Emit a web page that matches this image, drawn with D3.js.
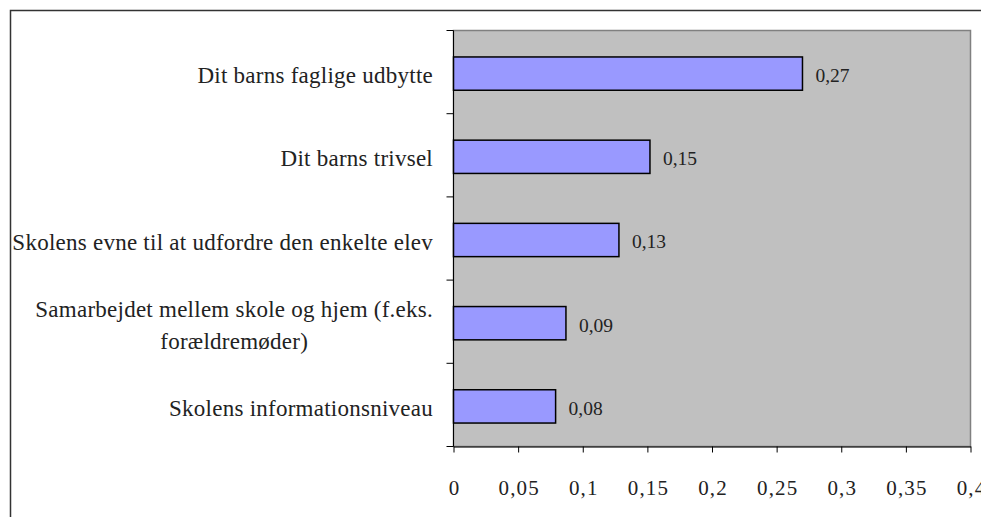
<!DOCTYPE html>
<html>
<head>
<meta charset="utf-8">
<script src="https://cdn.jsdelivr.net/npm/d3@7"></script>
<style>
  body { margin: 0; background: #fff; }
  text { font-family: "Liberation Serif", "Times New Roman", serif; fill: #222; }
</style>
</head>
<body>
<div id="chart"></div>
<script>
// data (top to bottom)
const categories = [
  "Dit barns faglige udbytte",
  "Dit barns trivsel",
  "Skolens evne til at udfordre den enkelte elev",
  "Samarbejdet mellem skole og hjem (f.eks.|forældremøder)",
  "Skolens informationsniveau"
];
const values = [0.270, 0.152, 0.128, 0.087, 0.079];
const xTicks = [0, 0.05, 0.1, 0.15, 0.2, 0.25, 0.3, 0.35, 0.4];

function createBarChart() {
  const W = 981, H = 517;
  const plot = { left: 453.5, top: 30.5, right: 970.5, bottom: 446.5 };
  const serif = "Liberation Serif, Times New Roman, serif";

  const svg = d3.select("#chart")
    .append("svg")
    .attr("width", W)
    .attr("height", H);

  // outer chart border (runs off the right and bottom edges)
  svg.append("rect")
    .attr("x", 10.5).attr("y", 10.5)
    .attr("width", 1000).attr("height", 600)
    .attr("fill", "#fff")
    .attr("stroke", "#333")
    .attr("stroke-width", 1.5);

  const x = d3.scaleLinear()
    .domain([0, 0.4])
    .range([plot.left, plot.right]);

  const y = d3.scaleBand()
    .domain(categories)
    .range([plot.top, plot.bottom])
    .paddingInner(0.6)
    .paddingOuter(0.3);

  // plot area
  svg.append("rect")
    .attr("x", plot.left).attr("y", plot.top)
    .attr("width", plot.right - plot.left)
    .attr("height", plot.bottom - plot.top)
    .attr("fill", "#c0c0c0")
    .attr("stroke", "#808080")
    .attr("stroke-width", 1.5);

  // bars
  svg.selectAll("rect.bar")
    .data(categories)
    .join("rect")
    .attr("class", "bar")
    .attr("x", x(0))
    .attr("y", d => y(d) + 1.5)
    .attr("width", (d, i) => x(values[i]) - x(0))
    .attr("height", y.bandwidth())
    .attr("fill", "#9999ff")
    .attr("stroke", "#000")
    .attr("stroke-width", 1.5);

  const fmt = v => d3.format(".2f")(v).replace(".", ",");

  // value labels
  svg.selectAll("text.val")
    .data(categories)
    .join("text")
    .attr("class", "val")
    .attr("x", (d, i) => x(values[i]) + 13)
    .attr("y", d => y(d) + y.bandwidth() / 2 + 3)
    .attr("dy", "0.35em")
    .attr("font-family", serif)
    .style("font-size", "19.5px")
    .text((d, i) => fmt(values[i]));

  // x axis
  const xAxis = svg.append("g")
    .attr("transform", `translate(0,${plot.bottom})`)
    .call(d3.axisBottom(x)
      .tickValues(xTicks)
      .tickSize(6)
      .tickSizeOuter(0)
      .tickFormat(d => String(d).replace(".", ",")));
  xAxis.select(".domain").attr("stroke", "#000");
  xAxis.selectAll(".tick text")
    .attr("y", 34)
    .attr("dx", "0.6px")
    .attr("fill", "#222")
    .attr("font-family", serif)
    .style("font-size", "21px")
    .style("letter-spacing", "1.2px");

  // y axis: ticks sit between categories
  const bounds = d3.range(categories.length + 1)
    .map(i => plot.top + i * y.step());
  svg.append("line")
    .attr("x1", plot.left).attr("x2", plot.left)
    .attr("y1", plot.top).attr("y2", plot.bottom)
    .attr("stroke", "#000");
  svg.selectAll("line.ytick")
    .data(bounds)
    .join("line")
    .attr("class", "ytick")
    .attr("x1", plot.left - 7).attr("x2", plot.left)
    .attr("y1", d => d).attr("y2", d => d)
    .attr("stroke", "#000");

  // category labels (wrapped lines are centred on each other)
  const catSize = "23px", catSpacing = "0.25px";
  categories.forEach(c => {
    const lines = c.split("|");
    const cy = y(c) + y.bandwidth() / 2 + 3;
    const g = svg.append("text")
      .attr("font-family", serif)
      .style("font-size", catSize)
      .style("letter-spacing", catSpacing);
    if (lines.length === 1) {
      g.attr("x", 433).attr("y", cy).attr("dy", "0.35em")
        .attr("text-anchor", "end").text(c);
    } else {
      const tmp = svg.append("text")
        .attr("font-family", serif)
        .style("font-size", catSize)
        .style("letter-spacing", catSpacing)
        .text(lines[0]);
      const w = tmp.node().getComputedTextLength();
      tmp.remove();
      const mid = 433 - w / 2;
      g.attr("text-anchor", "middle");
      lines.forEach((l, i) => {
        g.append("tspan")
          .attr("x", mid)
          .attr("y", cy + (i - (lines.length - 1) / 2) * 32)
          .attr("dy", "0.35em")
          .text(l);
      });
    }
  });
}

createBarChart();
</script>
</body>
</html>
